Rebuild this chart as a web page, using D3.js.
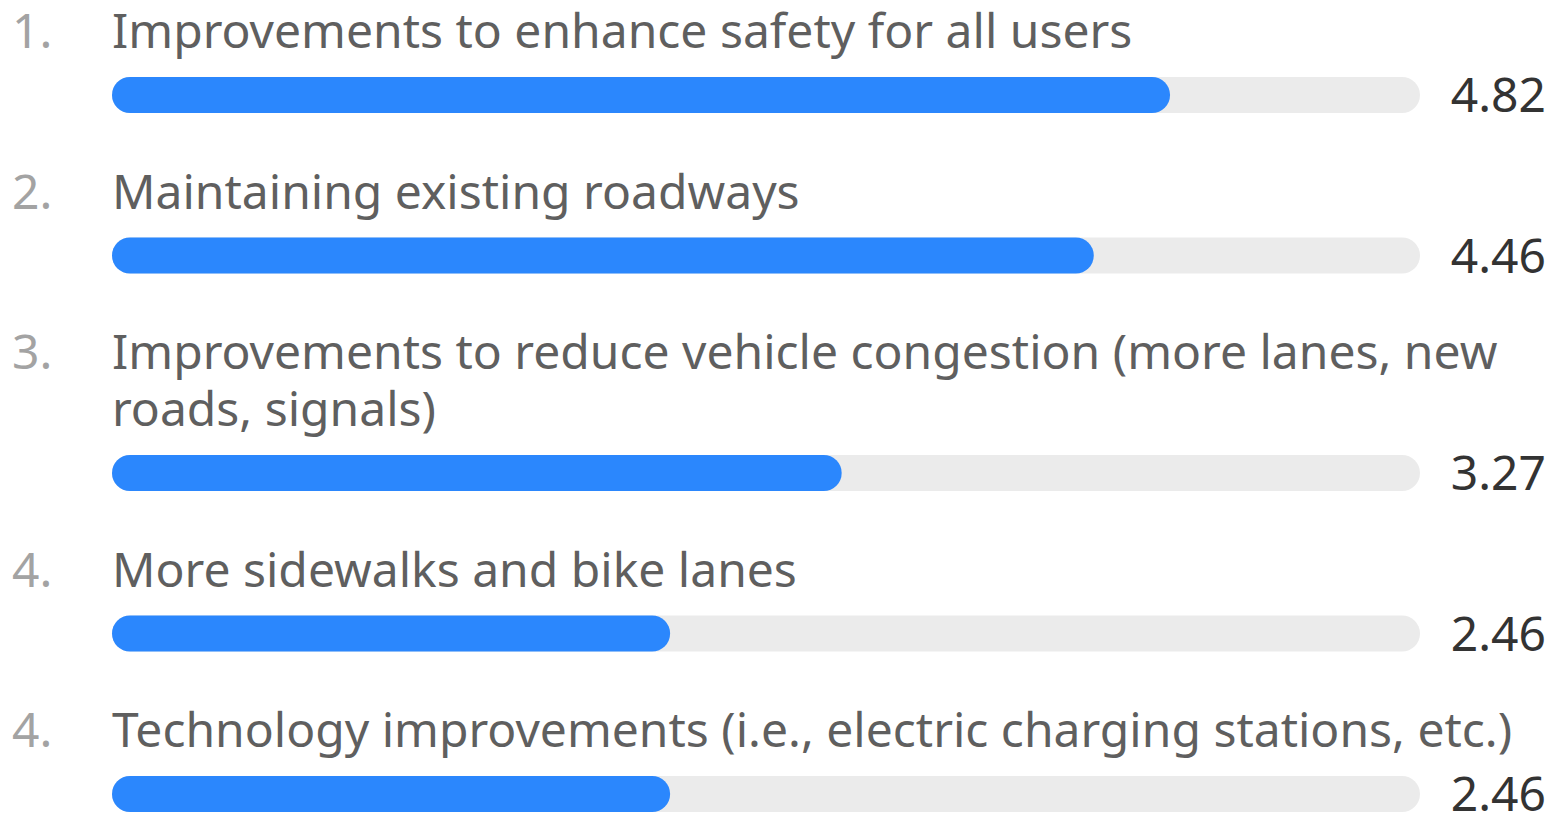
<!DOCTYPE html>
<html><head><meta charset="utf-8">
<script src="https://cdn.jsdelivr.net/npm/d3@7"></script>
<style>html,body{margin:0;padding:0;background:#fff;}svg{display:block;}</style>
</head><body>
<svg id="chart" width="1556" height="815"></svg>
<script>
const ranks = ["1.", "2.", "3.", "4.", "4."];
const categories = [
  "Improvements to enhance safety for all users",
  "Maintaining existing roadways",
  "Improvements to reduce vehicle congestion (more lanes, new roads, signals)",
  "More sidewalks and bike lanes",
  "Technology improvements (i.e., electric charging stations, etc.)"
];
const values = [4.82, 4.46, 3.27, 2.46, 2.46];
const valueLabels = ["4.82", "4.46", "3.27", "2.46", "2.46"];
const maxScore = 6;

const svg = d3.select("#chart");
const font = "'Noto Sans', 'Open Sans', sans-serif";
const left = 112, trackRight = 1420, textRight = 1546, barH = 36;
const lineH = 57, fontSize = 48;

const x = d3.scaleLinear().domain([0, maxScore]).range([left + barH + 1, trackRight]);

const measurer = svg.append("text").attr("font-family", font).attr("font-size", fontSize).attr("visibility","hidden");
function wrap(str, maxW) {
  const words = str.split(" ");
  const lines = []; let cur = "";
  for (const w of words) {
    const t = cur ? cur + " " + w : w;
    measurer.text(t);
    if (measurer.node().getComputedTextLength() > maxW && cur) { lines.push(cur); cur = w; }
    else cur = t;
  }
  if (cur) lines.push(cur);
  return lines;
}

let y = 48;
categories.forEach((cat, i) => {
  const lines = wrap(cat, textRight - left);
  const g = svg.append("g");
  g.append("text").attr("x", 12).attr("y", y).attr("font-family", font).attr("font-size", fontSize)
    .attr("fill", "#a3a3a3").text(ranks[i]);
  const t = g.append("text").attr("x", left).attr("y", y).attr("font-family", font).attr("font-size", fontSize).attr("fill", "#5f5f5f");
  lines.forEach((ln, j) => t.append("tspan").attr("x", left).attr("y", y + j * lineH).text(ln));
  const barTop = y + (lines.length - 1) * lineH + 29;
  g.append("rect").attr("x", left).attr("y", barTop).attr("width", trackRight - left).attr("height", barH)
    .attr("rx", barH / 2).attr("fill", "#ebebeb");
  g.append("rect").attr("x", left).attr("y", barTop).attr("width", x(values[i]) - left).attr("height", barH)
    .attr("rx", barH / 2).attr("fill", "#2b87fd");
  g.append("text").attr("x", textRight).attr("y", barTop + barH / 2).attr("dy", "0.36em")
    .attr("text-anchor", "end").attr("font-family", font).attr("font-size", fontSize).attr("fill", "#333333")
    .text(valueLabels[i]);
  y = barTop + barH + 95.5;
});
measurer.remove();
</script>
</body></html>
